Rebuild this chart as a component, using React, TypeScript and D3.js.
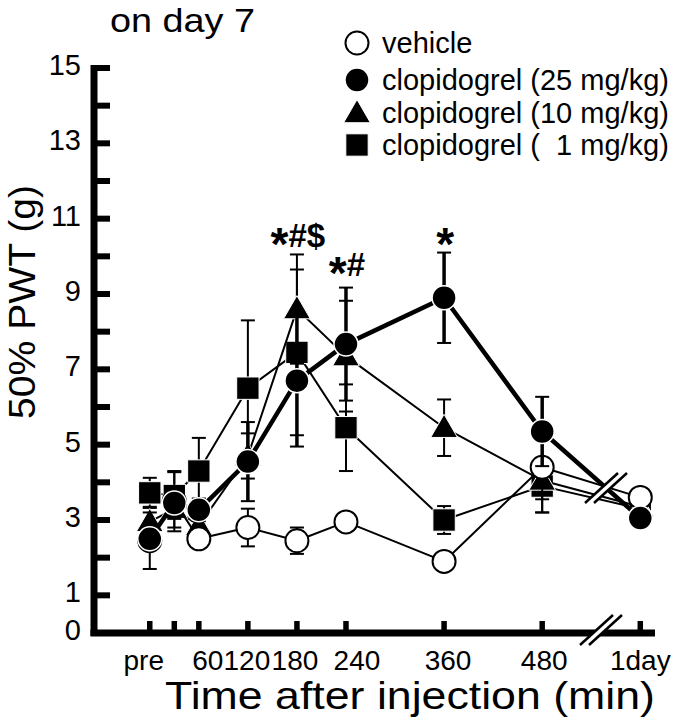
import React from "react";
import * as d3 from "d3";

// ---- data ----
const timeLabels = ["pre", "", "60", "120", "180", "240", "360", "480", "1day"];
const timeValues = [0, 30, 60, 120, 180, 240, 360, 480, 600]; // 1day placed after axis break
const labelShift = [-6, 0, 9, -1, -2, 11, 4, 2, 0];

const yTickValues = [1, 2, 3, 4, 5, 6, 7, 8, 9, 10, 11, 12, 13, 14, 15];
const yLabelValues = [0, 1, 3, 5, 7, 9, 11, 13, 15];
const yTickLabels = ["0", "1", "3", "5", "7", "9", "11", "13", "15"];

const vehicleMean = [2.45, 3.5, 2.5, 2.8, 2.45, 2.95, 1.9, 4.4, 3.6];
const vehicleErr = [0.75, 0.8, 0.2, 0.5, 0.35, 0.2, 0.15, 1.2, 0.2];

const clop25Mean = [2.5, 3.45, 3.27, 4.55, 6.7, 7.67, 8.9, 5.35, 3.05];
const clop25Err = [0.3, 0.4, 0.3, 1.05, 1.75, 1.5, 1.2, 0.92, 0.2];

const clop10Mean = [2.95, 3.3, 2.85, 4.7, 8.6, 7.35, 5.45, 4.05, 3.35];
const clop10Err = [0.4, 0.5, 0.3, 0.6, 1.45, 1.47, 0.75, 0.5, 0.3];

const clop1Mean = [3.72, 3.65, 4.3, 6.5, 7.45, 5.45, 3.0, 3.9, 3.3];
const clop1Err = [0.4, 0.62, 0.88, 1.8, 2.2, 1.15, 0.37, 0.7, 0.3];

const legendLabels = [
  "vehicle",
  "clopidogrel (25 mg/kg)",
  "clopidogrel (10 mg/kg)",
  "clopidogrel (\u00a0 1 mg/kg)",
];

const sigTimes = [180, 240, 360];
const sigValues = [10.25, 9.48, 10.25];
const sigMarks = ["#$", "#", ""];

// ---- layout ----
const W = 675;
const H = 719;
const FONT = "'Liberation Sans', Arial, Helvetica, sans-serif";

const x = d3.scaleLinear().domain([-67, 618]).range([95, 655]);
const y = d3.scaleLinear().domain([0, 15]).range([633, 68]);

type Series = {
  mean: number[];
  err: number[];
  shape: string;
  lineW: number;
  errW: number;
};

const series: Series[] = [
  { mean: clop1Mean, err: clop1Err, shape: "square", lineW: 2, errW: 2 },
  { mean: clop10Mean, err: clop10Err, shape: "triangle", lineW: 2, errW: 2 },
  { mean: vehicleMean, err: vehicleErr, shape: "circleOpen", lineW: 2, errW: 2 },
  { mean: clop25Mean, err: clop25Err, shape: "circle", lineW: 4.5, errW: 3.5 },
];

const symTri = d3.symbol().type(d3.symbolTriangle).size(310)();
const symSq = d3.symbol().type(d3.symbolSquare).size(500)();

function Marker({ shape, cx, cy }: { shape: string; cx: number; cy: number }) {
  if (shape === "circleOpen")
    return <circle cx={cx} cy={cy} r={11.5} fill="#fff" stroke="#000" strokeWidth={2} />;
  if (shape === "circle")
    return <circle cx={cx} cy={cy} r={12} fill="#000" stroke="#fff" strokeWidth={1.5} />;
  if (shape === "triangle")
    return <path d={symTri as string} transform={`translate(${cx},${cy + 2})`} fill="#000" stroke="#fff" strokeWidth={1} />;
  return <path d={symSq as string} transform={`translate(${cx},${cy})`} fill="#000" stroke="#fff" strokeWidth={1} />;
}

function BreakMark({ cx, cy, len, gap }: { cx: number; cy: number; len: number; gap: number }) {
  const dx = len * 0.55;
  const dy = len * 0.5;
  const a1 = [cx - gap / 2 - dx, cy + dy];
  const b1 = [cx - gap / 2 + dx, cy - dy];
  const a2 = [cx + gap / 2 - dx, cy + dy];
  const b2 = [cx + gap / 2 + dx, cy - dy];
  return (
    <g>
      <polygon points={`${a1} ${b1} ${b2} ${a2}`} fill="#fff" />
      <line x1={a1[0]} y1={a1[1]} x2={b1[0]} y2={b1[1]} stroke="#000" strokeWidth={2.5} />
      <line x1={a2[0]} y1={a2[1]} x2={b2[0]} y2={b2[1]} stroke="#000" strokeWidth={2.5} />
    </g>
  );
}

export default function App() {
  const line = d3
    .line<number>()
    .x((_, i) => x(timeValues[i]))
    .y((d) => y(d));

  const x0 = x.range()[0];
  const yBase = y(0);

  return (
    <svg
      width={W}
      height={H}
      style={{ position: "absolute", left: 0, top: 0, display: "block", background: "#fff" }}
      fontFamily={FONT}
    >
      <rect width={W} height={H} fill="#fff" />

      {/* title */}
      <text x={110} y={32} fontSize={33} textLength={145} lengthAdjust="spacingAndGlyphs">on day 7</text>

      {/* series */}
      {series.map((s, si) => (
        <g key={si}>
          <path d={line(s.mean) as string} fill="none" stroke="#000" strokeWidth={s.lineW} strokeLinejoin="round" />
          {s.mean.map((m, i) => {
            const cx = x(timeValues[i]);
            return (
              <g key={i}>
                <line x1={cx} x2={cx} y1={y(m - s.err[i])} y2={y(m + s.err[i])} stroke="#000" strokeWidth={s.errW} />
                <line x1={cx - 7} x2={cx + 7} y1={y(m + s.err[i])} y2={y(m + s.err[i])} stroke="#000" strokeWidth={2} />
                <line x1={cx - 7} x2={cx + 7} y1={y(m - s.err[i])} y2={y(m - s.err[i])} stroke="#000" strokeWidth={2} />
              </g>
            );
          })}
          {s.mean.map((m, i) => (
            <Marker key={"m" + i} shape={s.shape} cx={x(timeValues[i])} cy={y(m)} />
          ))}
        </g>
      ))}

      {/* break on data lines */}
      <BreakMark cx={606} cy={488} len={30} gap={9} />

      {/* y axis */}
      <line x1={x0 - 1} x2={x0 - 1} y1={y(15) - 3} y2={yBase + 3} stroke="#000" strokeWidth={7} />
      {yTickValues.map((v) => (
        <line key={v} x1={x0} x2={x0 + 15} y1={y(v)} y2={y(v)} stroke="#000" strokeWidth={6} />
      ))}
      {yLabelValues.map((v, i) => (
        <text key={v} x={81} y={y(v) + 7} fontSize={29} textAnchor="end">
          {yTickLabels[i]}
        </text>
      ))}

      {/* x axis */}
      <line x1={x0 - 4.5} x2={655} y1={yBase} y2={yBase} stroke="#000" strokeWidth={7} />
      {timeValues.map((t, i) => (
        <line key={i} x1={x(t)} x2={x(t)} y1={yBase} y2={yBase - 12} stroke="#000" strokeWidth={5.5} />
      ))}
      {timeValues.map((t, i) => (
        <text key={"l" + i} x={x(t) + labelShift[i]} y={670} fontSize={28} textAnchor="middle">
          {timeLabels[i]}
        </text>
      ))}
      <BreakMark cx={601} cy={630} len={30} gap={9} />

      {/* axis titles */}
      <text x={410} y={709} fontSize={39} textAnchor="middle" textLength={490} lengthAdjust="spacingAndGlyphs">
        Time after injection (min)
      </text>
      <text
        transform={`translate(35,${302}) rotate(-90)`}
        fontSize={36}
        textAnchor="middle"
        textLength={234}
        lengthAdjust="spacingAndGlyphs"
      >
        50% PWT (g)
      </text>

      {/* significance */}
      {sigTimes.map((t, i) => (
        <text key={i} x={x(t) + 1} y={y(sigValues[i])} fontSize={33} fontWeight="bold" textAnchor="middle">
          <tspan fontSize={46} dy={13}>*</tspan>
          <tspan dy={-13}>{sigMarks[i]}</tspan>
        </text>
      ))}

      {/* legend */}
      {legendLabels.map((lab, i) => {
        const ly = [43, 80, 113, 145][i];
        const shape = ["circleOpen", "circle", "triangle", "square"][i];
        return (
          <g key={i}>
            <Marker shape={shape} cx={357} cy={ly} />
            <text x={382} y={ly + 10} fontSize={29}>{lab}</text>
          </g>
        );
      })}
    </svg>
  );
}
